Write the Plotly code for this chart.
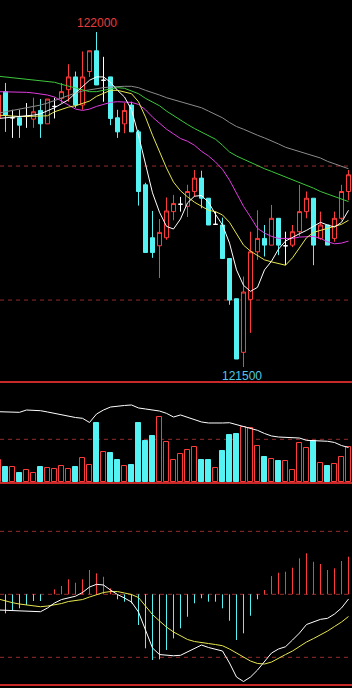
import plotly.graph_objects as go

# ---------------- data ----------------
opens = [121872, 121911, 121872, 121872, 121874, 121870, 121883, 121863, 121889, 121901,
         121914, 121933, 121891, 121941, 121972, 121928, 121933, 121872, 121863, 121891,
         121851, 121772, 121693, 121681, 121693, 121732, 121743, 121740, 121762, 121782,
         121752, 121713, 121712, 121662, 121602, 121522, 121601, 121672, 121692, 121682,
         121722, 121681, 121682, 121702, 121732, 121752, 121692, 121712, 121692, 121722,
         121762]
highs = [121924, 121924, 121884, 121884, 121894, 121902, 121900, 121900, 121902, 121924,
         121952, 121941, 121971, 121972, 122000, 121963, 121933, 121884, 121894, 121896,
         121854, 121775, 121733, 121721, 121753, 121757, 121754, 121772, 121794, 121793,
         121752, 121732, 121723, 121662, 121602, 121635, 121702, 121734, 121712, 121742,
         121722, 121702, 121712, 121772, 121762, 121752, 121732, 121712, 121732, 121772,
         121794]
lows = [121854, 121851, 121842, 121842, 121857, 121857, 121842, 121863, 121871, 121894,
        121896, 121887, 121884, 121933, 121921, 121896, 121861, 121842, 121849, 121851,
        121741, 121671, 121663, 121633, 121690, 121719, 121732, 121724, 121754, 121737,
        121712, 121712, 121662, 121593, 121512, 121500, 121551, 121660, 121665, 121682,
        121667, 121652, 121679, 121695, 121722, 121652, 121690, 121682, 121687, 121719,
        121749]
closes = [121906, 121876, 121872, 121861, 121874, 121881, 121863, 121900, 121889, 121911,
          121933, 121891, 121933, 121972, 121921, 121928, 121871, 121851, 121883, 121851,
          121762, 121671, 121671, 121701, 121733, 121744, 121743, 121762, 121782, 121752,
          121712, 121713, 121662, 121600, 121512, 121612, 121672, 121692, 121682, 121722,
          121682, 121681, 121702, 121732, 121752, 121682, 121712, 121682, 121722, 121762,
          121787]

ma5 = [121871, 121872, 121872, 121873, 121875, 121876, 121878, 121882, 121887, 121893,
       121899, 121909, 121919, 121928, 121933, 121933, 121925, 121913, 121903, 121884,
       121846, 121802, 121760, 121731, 121710, 121706, 121721, 121745, 121755, 121756,
       121746, 121728, 121712, 121685, 121645, 121622, 121613, 121619, 121645, 121658,
       121676, 121688, 121694, 121699, 121704, 121710, 121716, 121712, 121709, 121716,
       121734]
ma10 = [121876, 121875, 121875, 121874, 121874, 121874, 121874, 121875, 121881, 121885,
        121888, 121890, 121893, 121897, 121904, 121908, 121913, 121913, 121911, 121908,
        121896, 121873, 121846, 121822, 121797, 121776, 121763, 121754, 121746, 121740,
        121734, 121732, 121727, 121716, 121699, 121682, 121673, 121666, 121660, 121657,
        121654, 121652, 121663, 121678, 121693, 121701, 121704, 121707, 121710, 121713,
        121719]
ma20 = [121911, 121911, 121911, 121910, 121910, 121909, 121908, 121906, 121903, 121897,
        121890, 121885, 121883, 121885, 121889, 121892, 121895, 121896, 121896, 121895,
        121892, 121884, 121873, 121864, 121855, 121848, 121841, 121837, 121831, 121822,
        121815, 121806, 121795, 121779, 121760, 121740, 121724, 121707, 121700, 121695,
        121692, 121692, 121692, 121694, 121695, 121695, 121692, 121687, 121684, 121685,
        121688]
ma30 = [121934, 121933, 121932, 121931, 121930, 121929, 121928, 121927, 121925, 121922,
        121919, 121916, 121913, 121911, 121911, 121913, 121915, 121917, 121916, 121912,
        121908, 121901, 121896, 121890, 121882, 121875, 121868, 121862, 121856, 121851,
        121846, 121840, 121831, 121821, 121815, 121810, 121805, 121800, 121796, 121792,
        121788, 121784, 121779, 121775, 121771, 121767, 121762, 121758, 121755, 121751,
        121747]
ma60 = [121879, 121881, 121882, 121884, 121886, 121888, 121891, 121894, 121898, 121902,
        121905, 121909, 121912, 121914, 121916, 121917, 121918, 121919, 121919, 121919,
        121917, 121913, 121910, 121906, 121902, 121899, 121896, 121893, 121890, 121887,
        121882, 121877, 121872, 121865, 121859, 121855, 121850, 121846, 121842, 121838,
        121833, 121828, 121825, 121822, 121819, 121816, 121812, 121807, 121803, 121799,
        121796]

volumes = [2580, 1720, 1720, 1020, 1410, 1020, 1720, 1600, 1490, 1870,
           1490, 1720, 2780, 1990, 6870, 3480, 3360, 2580, 1870, 1990,
           6870, 4800, 5390, 7580, 4650, 2580, 3280, 3750, 4060, 2580,
           2580, 1600, 3630, 5500, 5620, 6480, 6360, 4220, 2890, 2690,
           2460, 2460, 1410, 4600, 3950, 4840, 2190, 1870, 2070, 2890,
           4130]
vol_ma = [8230, 8210, 8200, 8160, 8430, 8380, 8350, 8200, 8020, 7850,
          7730, 7550, 7460, 6970, 7960, 8430, 8780, 8900, 8960, 9020,
          8670, 8550, 8430, 8310, 8040, 7610, 7850, 7550, 7260, 7030,
          6910, 6870, 6910, 6940, 6730, 6480, 6260, 6050, 5680, 5390,
          5270, 5230, 5270, 5150, 4880, 4860, 4800, 4770, 4630, 4270,
          4040]

macd_hist = [-3.0, -3.02, -2.49, -2.22, -1.70, -1.06, -1.06, 0.0, 0.79, 1.32,
             2.38, 1.84, 2.38, 3.86, 3.33, 2.79, 0.95, -0.79, -1.17, -1.43,
             -4.87, -8.57, -10.43, -10.32, -8.84, -7.0, -5.40, -3.56, -1.43, -0.63,
             -1.17, -1.17, -2.22, -4.19, -7.25, -6.19, -3.40, -0.79, 0.68, 2.90,
             3.43, 3.59, 4.22, 5.71, 6.51, 5.17, 4.81, 3.86, 4.13, 5.29,
             5.97]
dif = [-2.49, -2.54, -2.60, -2.65, -2.70, -2.73, -2.76, -2.17, -1.38, -0.83,
       -0.51, -0.30, 0.29, 1.16, 1.59, 1.48, 0.68, -0.03, -0.59, -1.22,
       -2.81, -5.67, -8.52, -9.56, -9.71, -9.75, -9.68, -9.16, -8.52, -8.05,
       -8.44, -8.68, -9.00, -10.90, -13.13, -13.84, -13.13, -12.02, -10.75, -9.32,
       -8.68, -8.32, -7.25, -6.14, -4.79, -4.44, -3.97, -3.81, -3.13, -2.17,
       -0.75]
dea = [-0.75, -1.06, -1.33, -1.54, -1.70, -1.86, -1.97, -1.86, -1.70, -1.46,
       -1.14, -0.98, -0.83, -0.43, -0.03, 0.29, 0.44, 0.44, 0.21, -0.03,
       -0.51, -1.86, -3.21, -4.24, -5.19, -5.98, -6.62, -7.17, -7.49, -7.70,
       -7.81, -7.97, -8.16, -8.68, -9.32, -9.90, -10.59, -10.98, -11.06, -10.75,
       -10.11, -9.56, -9.00, -8.29, -7.57, -7.02, -6.46, -5.83, -5.11, -4.40,
       -3.52]

price_grid = [121800, 121600]
vol_grid = [5000]
macd_grid = [10, 0, -10]

# ---------------- styles ----------------
RED = "#ff3c3c"
CYAN = "#54f2f2"
SEP = "#c82828"
GRID = "#962c2c"
FONT = "Liberation Sans"

n = len(closes)
idx = list(range(n))

fig = go.Figure()

main = [i for i in idx if opens[i] != closes[i]]
doji = [i for i in idx if opens[i] == closes[i]]

fig.add_trace(go.Candlestick(
    x=main,
    open=[opens[i] for i in main], high=[highs[i] for i in main],
    low=[lows[i] for i in main], close=[closes[i] for i in main],
    increasing=dict(line=dict(color=RED, width=1), fillcolor="#000000"),
    decreasing=dict(line=dict(color=CYAN, width=1), fillcolor=CYAN),
    xaxis="x", yaxis="y", showlegend=False, hoverinfo="skip"))
fig.add_trace(go.Candlestick(
    x=doji,
    open=[opens[i] for i in doji], high=[highs[i] for i in doji],
    low=[lows[i] for i in doji], close=[closes[i] for i in doji],
    increasing=dict(line=dict(color="#ffffff", width=1), fillcolor="#ffffff"),
    decreasing=dict(line=dict(color="#ffffff", width=1), fillcolor="#ffffff"),
    xaxis="x", yaxis="y", showlegend=False, hoverinfo="skip"))

for series, col in [(ma60, "#8c8c8c"), (ma30, "#3cc83c"), (ma20, "#e03ce0"),
                    (ma10, "#e6e650"), (ma5, "#ffffff")]:
    fig.add_trace(go.Scatter(x=idx, y=series, mode="lines",
                             line=dict(color=col, width=1),
                             xaxis="x", yaxis="y", showlegend=False, hoverinfo="skip"))

# volume
vfill = ["#000000" if closes[i] >= opens[i] else CYAN for i in idx]
vline = [RED if closes[i] >= opens[i] else CYAN for i in idx]
fig.add_trace(go.Bar(x=idx, y=volumes, width=0.6,
                     marker=dict(color=vfill, line=dict(color=vline, width=1)),
                     xaxis="x2", yaxis="y2", showlegend=False, hoverinfo="skip"))
fig.add_trace(go.Scatter(x=idx, y=vol_ma, mode="lines", line=dict(color="#ffffff", width=1),
                         xaxis="x2", yaxis="y2", showlegend=False, hoverinfo="skip"))

# MACD histogram as thin sticks
for positive, col in [(True, RED), (False, CYAN)]:
    xs, ys = [], []
    for i in idx:
        v = macd_hist[i]
        if (v > 0) == positive and v != 0:
            xs += [i, i, None]
            ys += [0, v, None]
    fig.add_trace(go.Scatter(x=xs, y=ys, mode="lines", line=dict(color=col, width=1),
                             xaxis="x3", yaxis="y3", showlegend=False, hoverinfo="skip"))
fig.add_trace(go.Scatter(x=idx, y=dea, mode="lines", line=dict(color="#e6e650", width=1),
                         xaxis="x3", yaxis="y3", showlegend=False, hoverinfo="skip"))
fig.add_trace(go.Scatter(x=idx, y=dif, mode="lines", line=dict(color="#ffffff", width=1),
                         xaxis="x3", yaxis="y3", showlegend=False, hoverinfo="skip"))

# ---------------- layout ----------------
W, H = 352, 688
xr = [1.5 / 7, 353.5 / 7]
p_top, p_bot = 0, 381
v_bot = 482
price_range = [121479.2, 122047.8]
vol_range = [0, 11827]
macd_range = [-14.87, 17.83]

def dom(top_px, bot_px):
    return [1 - bot_px / H, 1 - top_px / H]

ax_common = dict(visible=False, showgrid=False, zeroline=False, showline=False, fixedrange=True)
fig.update_layout(
    width=W, height=H, margin=dict(l=0, r=0, t=0, b=0),
    paper_bgcolor="#000000", plot_bgcolor="#000000",
    boxgap=0.2, boxgroupgap=0.286, bargap=0,
    showlegend=False,
    xaxis=dict(domain=[0, 1], range=xr, anchor="y", rangeslider=dict(visible=False), **ax_common),
    xaxis2=dict(domain=[0, 1], range=xr, anchor="y2", **ax_common),
    xaxis3=dict(domain=[0, 1], range=xr, anchor="y3", **ax_common),
    yaxis=dict(domain=dom(p_top, p_bot), range=price_range, anchor="x", **ax_common),
    yaxis2=dict(domain=dom(p_bot, v_bot), range=vol_range, anchor="x2", **ax_common),
    yaxis3=dict(domain=dom(v_bot, H), range=macd_range, anchor="x3", **ax_common),
)

shapes = []
for g in price_grid:
    shapes.append(dict(type="line", xref="paper", yref="y", x0=0, x1=1, y0=g, y1=g,
                       line=dict(color=GRID, width=1, dash="4px,4px"), layer="below"))
for g in vol_grid:
    shapes.append(dict(type="line", xref="paper", yref="y2", x0=0, x1=1, y0=g, y1=g,
                       line=dict(color=GRID, width=1, dash="4px,4px"), layer="below"))
for g in macd_grid:
    shapes.append(dict(type="line", xref="paper", yref="y3", x0=0, x1=1, y0=g, y1=g,
                       line=dict(color=GRID, width=1, dash="4px,4px"), layer="below"))
for top_px in [381, 482, 684]:
    shapes.append(dict(type="rect", xref="paper", yref="paper", x0=0, x1=1,
                       y0=1 - (top_px + 2) / H, y1=1 - top_px / H,
                       fillcolor=SEP, line=dict(width=0), layer="above"))
fig.update_layout(shapes=shapes)

hi_i = max(idx, key=lambda i: highs[i])
lo_i = min(idx, key=lambda i: lows[i])
fig.add_annotation(x=hi_i, y=highs[hi_i], xref="x", yref="y", text=str(highs[hi_i]),
                   showarrow=False, yanchor="bottom", xanchor="center",
                   font=dict(family=FONT, size=12, color="#e83c3c"))
fig.add_annotation(x=lo_i - 0.25, y=lows[lo_i], xref="x", yref="y", text=str(lows[lo_i]),
                   showarrow=False, yanchor="top", xanchor="center",
                   font=dict(family=FONT, size=12, color="#50c8e6"))

fig.write_html("out.html")
